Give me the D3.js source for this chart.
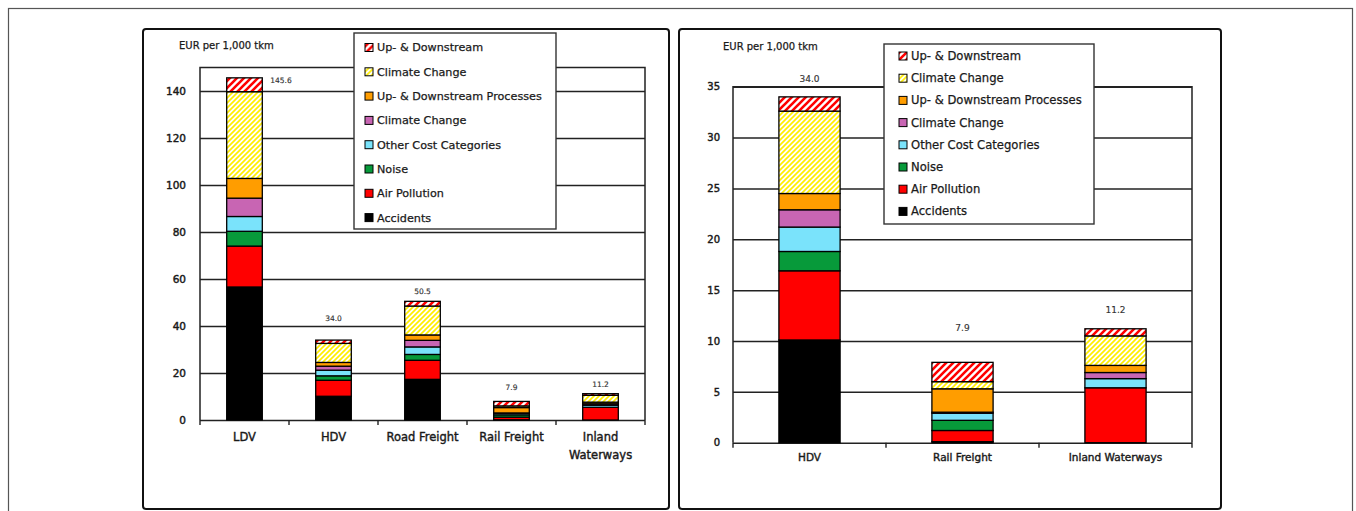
<!DOCTYPE html>
<html>
<head>
<meta charset="utf-8">
<script src="https://cdn.jsdelivr.net/npm/d3@7"></script>
<style>
html, body { margin: 0; padding: 0; background: #fff; }
svg { display: block; }
text { font-family: "DejaVu Sans", Verdana, sans-serif; fill: #1a1a1a; stroke: #1a1a1a; stroke-width: 0.25px; }
</style>
</head>
<body>
<svg id="chart" width="1356" height="511"></svg>
<script>
// stack order, bottom first
var costKeys = ["accidents", "airPollution", "noise", "otherCosts", "climateChange", "upDownProcesses", "climateChangeH", "upDownH"]
var costNames = ["Accidents", "Air Pollution", "Noise", "Other Cost Categories", "Climate Change", "Up- & Downstream Processes", "Climate Change", "Up- & Downstream"]

var modes = ["LDV", "HDV", "Road Freight", "Rail Freight", "Inland Waterways"]
var accidents       = [56.6, 10.1, 17.3, 0.1, 0.0]
var airPollution    = [17.4, 6.8, 8.1, 1.1, 5.4]
var noise           = [6.3, 1.9, 2.5, 1.0, 0.0]
var otherCosts      = [6.3, 2.4, 3.2, 0.7, 0.9]
var climateChange   = [7.8, 1.7, 2.8, 0.1, 0.6]
var upDownProcesses = [8.4, 1.6, 2.3, 2.3, 0.7]
var climateChangeH  = [36.9, 8.1, 12.3, 0.7, 2.9]
var upDownH         = [5.9, 1.4, 2.0, 1.9, 0.7]
var totalLabels     = ["145.6", "34.0", "50.5", "7.9", "11.2"]

var leftModes = ["LDV", "HDV", "Road Freight", "Rail Freight", "Inland Waterways"]
var rightModes = ["HDV", "Rail Freight", "Inland Waterways"]
var leftTicks = [0, 20, 40, 60, 80, 100, 120, 140]
var rightTicks = [0, 5, 10, 15, 20, 25, 30, 35]
var unitLabel = "EUR per 1,000 tkm"

var series = {
    accidents: accidents, airPollution: airPollution, noise: noise, otherCosts: otherCosts,
    climateChange: climateChange, upDownProcesses: upDownProcesses,
    climateChangeH: climateChangeH, upDownH: upDownH
}
var rows = modes.map(function (m, i) {
    var r = { mode: m, label: totalLabels[i] }
    costKeys.forEach(function (k) { r[k] = series[k][i] })
    return r
})

var fills = {
    accidents: "#000000",
    airPollution: "#ff0000",
    noise: "#079a3a",
    otherCosts: "#7ae3fb",
    climateChange: "#c865b3",
    upDownProcesses: "#ff9d00",
    climateChangeH: "url(#hatchYellow)",
    upDownH: "url(#hatchRed)"
}

var svg = d3.select("#chart")

// hatch patterns
var defs = svg.append("defs")
function hatch(id, size, color, w) {
    var p = defs.append("pattern")
        .attr("id", id)
        .attr("patternUnits", "userSpaceOnUse")
        .attr("width", size)
        .attr("height", size)
    p.append("rect").attr("width", size).attr("height", size).attr("fill", "#fff")
    p.append("path")
        .attr("d", "M0," + size + "L" + size + ",0M" + (-size / 2) + "," + (size / 2) + "L" + (size / 2) + "," + (-size / 2) +
            "M" + (size / 2) + "," + (size * 1.5) + "L" + (size * 1.5) + "," + (size / 2))
        .attr("stroke", color)
        .attr("stroke-width", w)
}
hatch("hatchYellow", 5, "#ffee00", 1.7)
hatch("hatchRed", 7, "#ff0000", 2.6)

// outer frame
svg.append("rect")
    .attr("x", 8.5).attr("y", 8.5)
    .attr("width", 1344).attr("height", 530)
    .attr("fill", "none")
    .attr("stroke", "#555")
    .attr("stroke-width", 1.2)

function drawPanel(cfg) {
    var g = svg.append("g")

    g.append("rect")
        .attr("x", cfg.box[0]).attr("y", cfg.box[1])
        .attr("width", cfg.box[2]).attr("height", cfg.box[3])
        .attr("rx", 3)
        .attr("fill", "#fff")
        .attr("stroke", "#111")
        .attr("stroke-width", 2)

    var data = rows.filter(function (r) { return cfg.modes.indexOf(r.mode) >= 0 })

    var x = d3.scaleBand()
        .domain(cfg.modes)
        .range([cfg.left, cfg.right])
        .paddingInner(0.6)
        .paddingOuter(0.3)
    var y = d3.scaleLinear()
        .domain([0, cfg.max])
        .range([cfg.bottom, cfg.top])

    // grid + y labels
    var yAxis = g.append("g")
        .attr("transform", "translate(" + cfg.left + ",0)")
        .call(d3.axisLeft(y).tickValues(cfg.ticks).tickSize(-(cfg.right - cfg.left)).tickPadding(cfg.tickPad))
    yAxis.select(".domain").remove()
    yAxis.selectAll(".tick line").attr("stroke", "#222").attr("stroke-width", 1.5)
    yAxis.selectAll(".tick text")
        .attr("fill", "#1a1a1a")
        .style("font-family", "DejaVu Sans, Verdana, sans-serif")
        .style("font-size", cfg.tickFont + "px")
        .style("stroke-width", "0.45px")

    // plot border (left, top, right)
    g.append("path")
        .attr("d", "M" + cfg.left + "," + y(0) + "V" + y(cfg.max) + "H" + cfg.right + "V" + y(0))
        .attr("fill", "none")
        .attr("stroke", "#222")
        .attr("stroke-width", 1.5)

    // x ticks between categories
    var bounds = d3.range(cfg.modes.length + 1).map(function (i) { return cfg.left + i * x.step() })
    g.selectAll(".xtick").data(bounds).enter().append("line")
        .attr("x1", function (d) { return d }).attr("x2", function (d) { return d })
        .attr("y1", y(0)).attr("y2", y(0) + 5)
        .attr("stroke", "#222").attr("stroke-width", 1.4)

    // category labels
    var xl = g.selectAll(".xlab").data(cfg.modes).enter().append("text")
        .attr("text-anchor", "middle")
        .style("font-size", cfg.catFont + "px")
        .style("stroke-width", "0.4px")
        .attr("x", function (d) { return x(d) + x.bandwidth() / 2 })
        .attr("y", y(0) + cfg.catDy)
    xl.each(function (d) {
        var words = cfg.wrap && d.indexOf(" ") > 0 && d.length > 13 ? d.split(" ") : [d]
        var t = d3.select(this)
        words.forEach(function (w, i) {
            t.append("tspan")
                .attr("x", x(d) + x.bandwidth() / 2)
                .attr("dy", i === 0 ? 0 : cfg.catLine)
                .text(w)
        })
    })

    // stacked bars
    var stacked = d3.stack().keys(costKeys)(data)
    g.selectAll(".layer").data(stacked).enter().append("g")
        .attr("fill", function (d) { return fills[d.key] })
        .selectAll("rect").data(function (d) { return d }).enter().append("rect")
        .attr("x", function (d) { return x(d.data.mode) })
        .attr("width", x.bandwidth())
        .attr("y", function (d) { return y(d[1]) })
        .attr("height", function (d) { return Math.max(0, y(d[0]) - y(d[1])) })
        .attr("stroke", "#000")
        .attr("stroke-width", 1.3)

    // totals
    g.selectAll(".total").data(data).enter().append("text")
        .attr("text-anchor", function (d, i) { return cfg.labelSide[i] ? "start" : "middle" })
        .attr("x", function (d, i) {
            return cfg.labelSide[i] ? x(d.mode) + x.bandwidth() + 8 : x(d.mode) + x.bandwidth() / 2
        })
        .attr("y", function (d, i) {
            var tot = d3.sum(costKeys, function (k) { return d[k] })
            return y(tot) - cfg.labelLift[i]
        })
        .attr("dy", "0.35em")
        .style("font-size", cfg.totalFont + "px")
        .style("fill", "#333")
        .style("stroke", "#333")
        .style("stroke-width", "0.15px")
        .text(function (d) { return d.label })

    // unit label
    g.append("text")
        .attr("x", cfg.unitPos[0]).attr("y", cfg.unitPos[1])
        .attr("dy", "0.35em")
        .style("font-size", "10px")
        .text(unitLabel)

    // legend
    var lg = cfg.legend
    g.append("rect")
        .attr("x", lg.box[0]).attr("y", lg.box[1])
        .attr("width", lg.box[2]).attr("height", lg.box[3])
        .attr("fill", "#fff")
        .attr("stroke", "#333")
        .attr("stroke-width", 1.4)
    var items = costKeys.map(function (k, i) { return { key: k, name: costNames[i] } }).reverse()
    var li = g.selectAll(".leg").data(items).enter().append("g")
        .attr("transform", function (d, i) { return "translate(0," + (lg.y0 + i * lg.step) + ")" })
    li.append("rect")
        .attr("x", lg.swatchX).attr("y", -4)
        .attr("width", 8).attr("height", 8)
        .attr("fill", function (d) { return fills[d.key] })
        .attr("stroke", "#000")
        .attr("stroke-width", 1)
    li.append("text")
        .attr("x", lg.textX)
        .attr("dy", "0.35em")
        .style("font-size", lg.font + "px")
        .text(function (d) { return d.name })
}

drawPanel({
    box: [143, 29, 526, 480],
    modes: leftModes,
    left: 200, right: 645, top: 67.5, bottom: 420,
    max: 150, ticks: leftTicks, tickPad: 14, tickFont: 10.5,
    catFont: 11.5, catDy: 21, catLine: 18, wrap: true,
    totalFont: 7.5,
    labelSide: [true, false, false, false, false],
    labelLift: [-3, 22, 10, 14, 9],
    unitPos: [179, 45.5],
    legend: { box: [354, 33, 202, 196], y0: 47.5, step: 24.3, swatchX: 365, textX: 377, font: 11.2 }
})

drawPanel({
    box: [679, 29, 542, 480],
    modes: rightModes,
    left: 733, right: 1192, top: 86.7, bottom: 442.7,
    max: 35, ticks: rightTicks, tickPad: 13, tickFont: 10,
    catFont: 10.5, catDy: 18, catLine: 16, wrap: false,
    totalFont: 9,
    labelSide: [false, false, false],
    labelLift: [18, 34, 19],
    unitPos: [723, 46.5],
    legend: { box: [884, 44, 210, 180], y0: 56, step: 22.2, swatchX: 899, textX: 911, font: 11.6 }
})
</script>
</body>
</html>
